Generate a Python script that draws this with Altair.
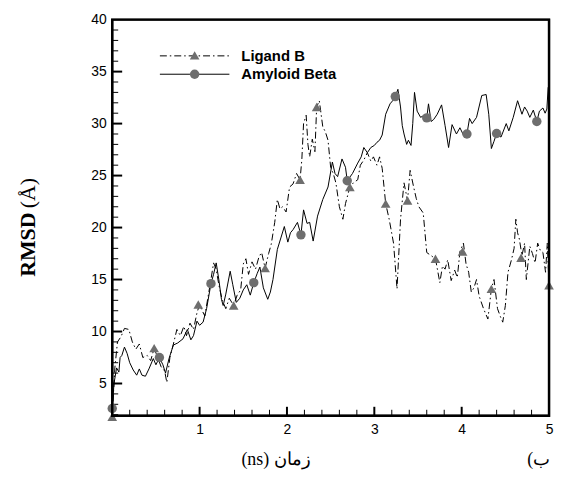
import altair as alt
import pandas as pd

# ---- data ----
ligand_x = [0.00, 0.03, 0.06, 0.10, 0.14, 0.19, 0.23, 0.27, 0.31, 0.35, 0.40, 0.44, 0.48, 0.52, 0.56, 0.60, 0.625,
            0.66, 0.70, 0.74, 0.78, 0.82, 0.85, 0.89, 0.93, 0.97, 1.00, 1.03, 1.06, 1.10, 1.13, 1.16, 1.19, 1.22,
            1.26, 1.30, 1.34, 1.39, 1.43, 1.47, 1.50, 1.53, 1.56, 1.60, 1.64, 1.68, 1.71, 1.75, 1.79, 1.82, 1.86,
            1.89, 1.92, 1.95, 1.99, 2.03, 2.07, 2.11, 2.15, 2.17, 2.19, 2.22, 2.24, 2.26, 2.29, 2.32, 2.34, 2.37,
            2.41, 2.44, 2.47, 2.50, 2.53, 2.56, 2.60, 2.64, 2.67, 2.72, 2.76, 2.81, 2.84, 2.88, 2.92, 2.96, 2.99,
            3.03, 3.06, 3.09, 3.13, 3.17, 3.22, 3.26, 3.30, 3.34, 3.38, 3.41, 3.45, 3.48, 3.51, 3.56, 3.60, 3.65,
            3.70, 3.75, 3.78, 3.81, 3.84, 3.88, 3.92, 3.95, 3.98, 4.02, 4.05, 4.08, 4.11, 4.14, 4.17, 4.20, 4.25,
            4.30, 4.34, 4.37, 4.41, 4.44, 4.47, 4.50, 4.53, 4.57, 4.60, 4.62, 4.64, 4.66, 4.69, 4.72, 4.74, 4.78,
            4.81, 4.84, 4.87, 4.90, 4.93, 4.96, 4.98, 5.00]
ligand_y = [1.9, 6.5, 9.0, 9.5, 10.3, 10.2, 9.0, 8.3, 8.8, 7.5, 7.7, 7.2, 8.4, 7.5, 6.6, 6.2, 5.1,
            7.5, 8.8, 10.2, 9.6, 10.5, 9.6, 10.8, 10.2, 11.8, 12.6, 12.0, 11.5, 13.5, 15.0, 16.6, 16.0, 14.5,
            13.0, 12.2, 13.2, 12.5, 13.5, 14.0, 16.5, 17.0, 15.5, 16.7, 16.0, 17.2, 17.6, 16.1, 17.5, 18.4, 20.5,
            22.7, 21.8, 22.0, 21.5, 23.9, 24.2, 25.2, 24.6, 26.5, 30.0, 30.8, 28.0, 26.8, 28.5, 27.3, 31.6, 32.2,
            29.7, 29.2, 28.4, 25.8, 25.2, 24.3, 22.0, 20.8, 22.3, 23.9, 24.3, 24.6, 26.0, 26.5, 27.2, 26.4, 26.8,
            26.0, 26.8, 25.7, 22.3, 20.8, 18.5, 14.1, 20.8, 24.3, 22.6, 25.5, 23.9, 22.8, 22.0, 21.4, 17.6, 17.3,
            17.0, 14.7, 16.3, 16.0, 16.9, 14.9, 15.9, 15.2, 17.7, 18.5, 16.5, 15.7, 13.8, 14.2, 15.0, 13.4, 12.2,
            11.2, 14.1, 15.0, 12.2, 11.5, 10.9, 12.5, 15.7, 16.9, 18.0, 20.8, 19.5, 18.9, 17.3, 18.5, 15.0, 18.2,
            17.5, 16.6, 18.5, 17.8, 17.6, 15.7, 18.5, 14.45]

amyloid_x = [0.00, 0.02, 0.05, 0.076, 0.09, 0.11, 0.14, 0.17, 0.20, 0.24, 0.28, 0.31, 0.34, 0.38, 0.42, 0.47,
             0.50, 0.54, 0.58, 0.61, 0.65, 0.70, 0.75, 0.81, 0.86, 0.90, 0.93, 0.97, 1.00, 1.04, 1.08, 1.13,
             1.16, 1.19, 1.22, 1.25, 1.27, 1.30, 1.35, 1.38, 1.42, 1.46, 1.50, 1.54, 1.58, 1.62, 1.66, 1.69,
             1.73, 1.78, 1.81, 1.84, 1.89, 1.93, 1.97, 2.01, 2.04, 2.07, 2.12, 2.16, 2.19, 2.23, 2.26, 2.30,
             2.35, 2.41, 2.47, 2.52, 2.55, 2.58, 2.63, 2.67, 2.69, 2.75, 2.81, 2.85, 2.88, 2.92, 2.96, 3.00,
             3.03, 3.06, 3.09, 3.13, 3.18, 3.21, 3.24, 3.27, 3.30, 3.32, 3.34, 3.37, 3.39, 3.42, 3.44, 3.46,
             3.49, 3.53, 3.57, 3.60, 3.62, 3.65, 3.68, 3.72, 3.77, 3.81, 3.85, 3.89, 3.94, 3.98, 4.02, 4.06,
             4.09, 4.12, 4.17, 4.23, 4.28, 4.31, 4.34, 4.37, 4.40, 4.45, 4.51, 4.54, 4.59, 4.64, 4.69, 4.72,
             4.75, 4.78, 4.82, 4.86, 4.89, 4.93, 4.955, 4.975, 4.99]
amyloid_y = [2.6, 5.0, 6.5, 6.1, 7.5, 7.7, 8.5, 7.9, 7.0, 6.3, 5.8, 6.4, 5.8, 5.7, 6.4, 7.4,
             6.8, 7.5, 6.8, 6.0, 7.4, 8.7, 8.9, 9.3, 10.2, 9.2, 9.6, 11.0, 10.6, 10.9, 12.2, 14.6,
             15.5, 16.6, 15.0, 13.1, 12.5, 13.6, 15.8, 14.5, 12.8, 13.2, 14.0, 14.5, 13.5, 14.7, 15.6, 16.2,
             14.2, 13.1, 13.8, 15.0, 17.9, 19.0, 20.1, 18.6, 19.5, 19.8, 20.5, 19.3, 21.7, 20.4, 20.5, 18.7,
             21.1, 22.7, 23.9, 26.3, 25.2, 24.9, 26.6, 25.8, 24.5, 25.2, 26.2, 26.8, 27.7, 27.2, 27.7, 27.9,
             28.2, 28.4, 28.9, 30.9, 31.9, 32.2, 32.6, 33.3, 31.6, 29.8, 29.0, 28.0, 28.4, 27.9, 30.0, 33.0,
             31.2, 30.6, 30.8, 30.55, 31.9, 30.2, 30.4, 30.9, 31.8, 29.8, 27.7, 29.9, 29.0, 29.6, 28.9, 29.0,
             30.5, 30.0, 30.6, 32.7, 32.8, 30.9, 27.6, 28.3, 29.05, 28.7, 30.0, 29.3, 30.6, 32.2, 30.9, 31.6,
             31.2, 30.6, 31.3, 30.2, 31.2, 31.5, 31.0, 31.4, 33.5]

ligand_mx = [0.0, 0.48, 0.985, 1.39, 1.75, 2.15, 2.34, 2.72, 3.13, 3.38, 3.70, 4.01, 4.34, 4.68, 5.0]
ligand_my = [1.8, 8.4, 12.6, 12.5, 16.1, 24.6, 31.6, 23.9, 22.3, 22.6, 17.0, 17.7, 14.1, 17.1, 14.45]
amyloid_mx = [0.0, 0.54, 1.13, 1.62, 2.16, 2.69, 3.24, 3.60, 4.06, 4.40, 4.86]
amyloid_my = [2.6, 7.5, 14.6, 14.7, 19.3, 24.5, 32.6, 30.55, 29.0, 29.05, 30.2]

x_range = [0, 5]
y_range = [1.9, 40]
x_major = [1, 2, 3, 4]
x_minor = [0.2, 0.4, 0.6, 0.8, 1.2, 1.4, 1.6, 1.8, 2.2, 2.4, 2.6, 2.8, 3.2, 3.4, 3.6, 3.8,
           4.2, 4.4, 4.6, 4.8]
x_labels = [1, 2, 3, 4, 5]
y_major = [5, 10, 15, 20, 25, 30, 35]
y_minor = [2, 3, 4, 6, 7, 8, 9, 11, 12, 13, 14, 16, 17, 18, 19, 21, 22, 23, 24, 26, 27, 28, 29,
           31, 32, 33, 34, 36, 37, 38, 39]
y_labels = [5, 10, 15, 20, 25, 30, 35, 40]

series_names = ["Ligand B", "Amyloid Beta"]
y_title_bold = ["RMSD"]
y_title_rest = ["(Å)"]
x_title = ["(ns) زمان"]
panel_tag = ["(ب"]

# ---- chart ----
W, H = 440, 399
MARK = "#6e6e6e"
FRAME = "#000000"
xs = alt.Scale(domain=x_range, nice=False, zero=False)
ys = alt.Scale(domain=y_range, nice=False, zero=False)
xaxis = alt.Axis(values=x_labels, title=None, ticks=False, domain=False, grid=False,
                 labelFont="Liberation Sans", labelFontSize=14, labelColor="black",
                 labelPadding=7, labelFlush=False)
yaxis = alt.Axis(values=y_labels, title=None, ticks=False, domain=False, grid=False,
                 labelFont="Liberation Sans", labelFontSize=14, labelColor="black",
                 labelPadding=6, labelFlush=False)
X = alt.X("x:Q", scale=xs, axis=xaxis)
Y = alt.Y("y:Q", scale=ys, axis=yaxis)

lig = pd.DataFrame({"x": ligand_x, "y": ligand_y})
amy = pd.DataFrame({"x": amyloid_x, "y": amyloid_y})
ligm = pd.DataFrame({"x": ligand_mx, "y": ligand_my})
amym = pd.DataFrame({"x": amyloid_mx, "y": amyloid_my})

lig_line = alt.Chart(lig).mark_line(color="black", strokeWidth=1, strokeDash=[7, 3, 1.5, 3]).encode(x=X, y=Y)
amy_line = alt.Chart(amy).mark_line(color="black", strokeWidth=1).encode(x=X, y=Y)
lig_pts = alt.Chart(ligm).mark_point(shape="triangle-up", filled=True, size=95, color=MARK, opacity=1).encode(x=X, y=Y)
amy_pts = alt.Chart(amym).mark_point(shape="circle", filled=True, size=90, color=MARK, opacity=1).encode(x=X, y=Y)

ymaj = alt.Chart(pd.DataFrame({"y": y_major})).mark_rule(color="black", strokeWidth=2).encode(
    y=Y, x=alt.value(0), x2=alt.value(10))
ymin = alt.Chart(pd.DataFrame({"y": y_minor})).mark_rule(color="black", strokeWidth=1).encode(
    y=Y, x=alt.value(0), x2=alt.value(6))
xmaj = alt.Chart(pd.DataFrame({"x": x_major})).mark_rule(color="black", strokeWidth=2).encode(
    x=X, y=alt.value(H), y2=alt.value(H - 9))
xmin = alt.Chart(pd.DataFrame({"x": x_minor})).mark_rule(color="black", strokeWidth=1).encode(
    x=X, y=alt.value(H), y2=alt.value(H - 6))

# plot frame: closed polyline through the four corners of the domain
frame = alt.Chart(pd.DataFrame({
    "x": [x_range[0], x_range[1], x_range[1], x_range[0], x_range[0]],
    "y": [y_range[1], y_range[1], y_range[0], y_range[0], y_range[1]],
    "o": [0, 1, 2, 3, 4]})).mark_line(color=FRAME, strokeWidth=2.5, strokeCap="square").encode(
    x=X, y=Y, order="o:Q")

# legend
leg_lig_line = alt.Chart(pd.DataFrame({"n": [series_names[0]]})).mark_rule(
    color="black", strokeWidth=1, strokeDash=[7, 3, 1.5, 3]).encode(
    x=alt.value(48), x2=alt.value(118), y=alt.value(36.5))
leg_amy_line = alt.Chart(pd.DataFrame({"n": [series_names[1]]})).mark_rule(
    color="black", strokeWidth=1).encode(x=alt.value(48), x2=alt.value(118), y=alt.value(55))
leg_lig_pt = alt.Chart(pd.DataFrame({"n": [series_names[0]]})).mark_point(
    shape="triangle-up", filled=True, size=95, color=MARK, opacity=1).encode(x=alt.value(83), y=alt.value(36))
leg_amy_pt = alt.Chart(pd.DataFrame({"n": [series_names[1]]})).mark_point(
    shape="circle", filled=True, size=90, color=MARK, opacity=1).encode(x=alt.value(83), y=alt.value(55))
leg_txt = alt.Chart(pd.DataFrame({"n": series_names, "py": [36.5, 55]})).mark_text(
    font="Liberation Sans", fontWeight="bold", fontSize=15, align="left", baseline="middle", color="black").encode(
    text="n:N", x=alt.value(130), y=alt.Y("py:Q", scale=None))

# titles
yt1 = alt.Chart(pd.DataFrame({"t": y_title_bold})).mark_text(
    font="Liberation Serif", fontWeight="bold", fontSize=22, angle=270, align="left", baseline="middle",
    color="black").encode(text="t:N", x=alt.value(-85), y=alt.value(259))
yt2 = alt.Chart(pd.DataFrame({"t": y_title_rest})).mark_text(
    font="Liberation Serif", fontSize=22, angle=270, align="left", baseline="middle",
    color="black").encode(text="t:N", x=alt.value(-85), y=alt.value(190))
xt = alt.Chart(pd.DataFrame({"t": x_title})).mark_text(
    font="Liberation Serif, DejaVu Serif", fontSize=18, align="center", baseline="alphabetic",
    color="black").encode(text="t:N", x=alt.value(165), y=alt.value(449))
tag = alt.Chart(pd.DataFrame({"t": panel_tag})).mark_text(
    font="Liberation Serif, DejaVu Serif", fontSize=18, align="left", baseline="alphabetic",
    color="black").encode(text="t:N", x=alt.value(418), y=alt.value(449))

chart = alt.layer(
    ymin, ymaj, xmin, xmaj, lig_line, amy_line, lig_pts, amy_pts, frame,
    leg_lig_line, leg_amy_line, leg_lig_pt, leg_amy_pt, leg_txt, yt1, yt2, xt, tag
).properties(
    width=W, height=H,
    autosize=alt.AutoSizeParams(type="none"),
    padding={"left": 105, "top": 10, "right": 6, "bottom": 60},
).configure(background="white").configure_view(stroke="black", strokeWidth=2)

chart.save("out.html", embed_options={"renderer": "svg", "actions": False})
